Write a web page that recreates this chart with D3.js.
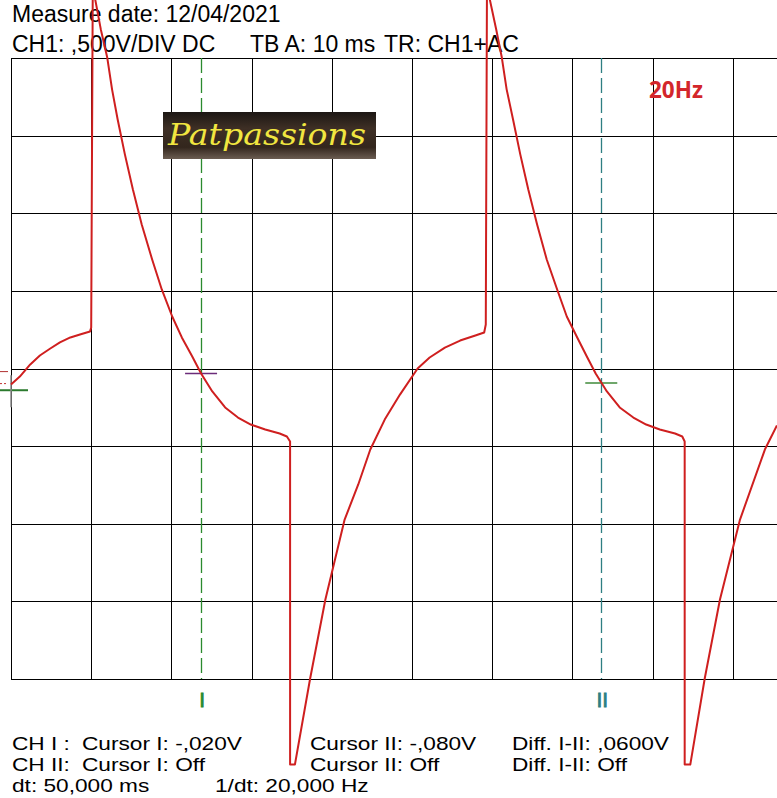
<!DOCTYPE html>
<html>
<head>
<meta charset="utf-8">
<script src="https://cdn.jsdelivr.net/npm/d3@7"></script>
<style>
  html, body { margin: 0; padding: 0; background: #fff; }
  svg { display: block; }
  .scope-text { font-family: "Liberation Sans", Arial, sans-serif; font-size: 23px; fill: #000; }
  .grid line { stroke: #000; stroke-width: 1; shape-rendering: crispEdges; }
</style>
</head>
<body>
<div id="chart"></div>
<script>
/** Values */

// trace: time in ms, level in V (0,5 V/div, 10 ms/div)
var waveT = [0, 1.1, 2.4, 3.6, 4.9, 6.1, 7.4, 8.6, 9.85, 10.0,
  10.2, 10.5, 11.2, 12.0, 12.6, 13.3, 14.2, 15.2, 16.3, 17.6, 18.8, 20.1, 21.3, 22.6, 23.7,
  25.1, 26.7, 28.3, 29.9, 31.7, 33.5, 34.4, 34.8, 34.8, 35.4, 37.3, 39.2, 41.6, 43.3, 44.8,
  46.6, 48.5, 50.7, 52.2, 54.1, 56.0, 57.9, 59.0, 59.2,
  59.35, 59.7, 60.5, 61.2, 61.8, 62.6, 63.5, 64.5, 65.6, 66.8, 68.1, 69.3, 70.6, 71.8, 72.9,
  74.3, 75.9, 77.6, 79.2, 80.9, 82.8, 83.7, 84.0, 84.0, 84.7, 86.5, 88.4, 90.9, 94.0, 95.5];
var waveV = [-0.103, -0.052, 0.026, 0.084, 0.129, 0.168, 0.200, 0.219, 0.238, 0.264,
  2.506, 2.377, 2.184, 2.003, 1.798, 1.604, 1.379, 1.153, 0.928, 0.702, 0.509, 0.335, 0.200, 0.077, -0.032,
  -0.148, -0.251, -0.316, -0.361, -0.393, -0.419, -0.438, -0.470, -2.551, -2.551, -1.997, -1.488, -0.973, -0.747, -0.522,
  -0.329, -0.168, 0, 0.071, 0.135, 0.180, 0.213, 0.232, 0.283,
  2.506, 2.377, 2.184, 2.003, 1.798, 1.604, 1.379, 1.153, 0.928, 0.702, 0.509, 0.335, 0.200, 0.077, -0.032,
  -0.148, -0.251, -0.316, -0.361, -0.393, -0.419, -0.438, -0.470, -2.551, -2.551, -1.997, -1.488, -0.973, -0.522, -0.367];

var cursorNames = ["I", "II"];
var cursorT = [23.7, 73.6];
var cursorV = [-0.020, -0.080];
var cursorColors = ["#2b8a2e", "#2e7f82"];

var gndV = -0.14;
var trigV = -0.02;

var timeTicks = d3.range(0, 100, 10);      // 10 ms/div
var voltTicks = d3.range(-2, 2.01, 0.5);   // 0,5 V/div

var headerLines = [
  ["Measure date: 12/04/2021"],
  ["CH1: ,500V/DIV DC", "TB A: 10 ms", "TR: CH1+AC"]
];
var footerLines = [
  ["CH I :", "Cursor I: -,020V", "Cursor II: -,080V", "Diff. I-II: ,0600V"],
  ["CH II:", "Cursor I: Off", "Cursor II: Off", "Diff. I-II: Off"],
  ["dt: 50,000 ms", "1/dt: 20,000 Hz"]
];
var freqLabel = "20Hz";
var logoText = "Patpassions";

/** Layout */

var W = 777;
var H = 798;
var plot = {left: 11, right: 813, top: 58, bottom: 679};

drawScope();

function drawScope() {
  var svg = d3.select("#chart")
    .append("svg")
      .attr("width", W)
      .attr("height", H);

  var x = d3.scaleLinear()
    .domain([0, 100])
    .range([plot.left, plot.right]);

  var y = d3.scaleLinear()
    .domain([-2, 2])
    .range([plot.bottom, plot.top]);

  // GRID //

  var xGrid = svg.append("g")
    .attr("class", "grid")
    .attr("transform", "translate(0," + plot.bottom + ")")
    .call(d3.axisBottom(x).tickValues(timeTicks).tickSize(-(plot.bottom - plot.top)).tickFormat(""));
  xGrid.select(".domain").remove();

  var yGrid = svg.append("g")
    .attr("class", "grid")
    .attr("transform", "translate(" + plot.left + ",0)")
    .call(d3.axisLeft(y).tickValues(voltTicks).tickSize(-(W - plot.left)).tickFormat(""));
  yGrid.select(".domain").remove();

  // CURSORS //

  var cursors = svg.selectAll(".cursor")
    .data(cursorT)
    .enter()
    .append("g")
      .attr("class", "cursor");

  cursors.append("line")
    .attr("x1", function(d) { return Math.round(x(d)) + 0.5; })
    .attr("x2", function(d) { return Math.round(x(d)) + 0.5; })
    .attr("y1", plot.top)
    .attr("y2", plot.bottom)
    .attr("stroke", function(d, i) { return cursorColors[i]; })
    .attr("stroke-width", 1.3)
    .attr("stroke-dasharray", "15,5");

  cursors.append("text")
    .attr("x", function(d) { return x(d) + 1; })
    .attr("y", 707)
    .attr("text-anchor", "middle")
    .style("font-family", "Liberation Sans, Arial, sans-serif")
    .style("font-size", "21px")
    .style("fill", function(d, i) { return cursorColors[i]; })
    .attr("stroke", function(d, i) { return cursorColors[i]; })
    .attr("stroke-width", 0.8)
    .text(function(d, i) { return cursorNames[i]; });

  // level marks on each cursor
  cursors.append("line")
    .attr("x1", function(d) { return x(d) - 16; })
    .attr("x2", function(d) { return x(d) + 16; })
    .attr("y1", function(d, i) { return y(cursorV[i]) + 2; })
    .attr("y2", function(d, i) { return y(cursorV[i]) + 2; })
    .attr("stroke", function(d, i) { return i === 0 ? "#6b2c7a" : "#3f8a3a"; })
    .attr("stroke-width", 1.5);

  // ground / trigger marks at the left edge
  svg.append("line")
    .attr("x1", 0).attr("x2", plot.left + 17)
    .attr("y1", y(gndV)).attr("y2", y(gndV))
    .attr("stroke", "#2b7a2e")
    .attr("stroke-width", 2);
  svg.append("line")
    .attr("x1", plot.left).attr("x2", plot.left)
    .attr("y1", y(gndV) - 15).attr("y2", y(gndV) + 17)
    .attr("stroke", "#8a8a8a")
    .attr("stroke-width", 1.5);
  svg.append("line")
    .attr("x1", 0).attr("x2", 8)
    .attr("y1", y(trigV)).attr("y2", y(trigV))
    .attr("stroke", "#b03030")
    .attr("stroke-width", 1);
  svg.append("line")
    .attr("x1", 0).attr("x2", 8)
    .attr("y1", y(trigV) + 12).attr("y2", y(trigV) + 12)
    .attr("stroke", "#c03030")
    .attr("stroke-width", 1)
    .attr("stroke-dasharray", "2,2");

  // LOGO //

  var defs = svg.append("defs");
  var grad = defs.append("linearGradient")
    .attr("id", "logo-bg")
    .attr("x1", "0%").attr("x2", "0%")
    .attr("y1", "0%").attr("y2", "100%");
  grad.append("stop").attr("offset", "0%").attr("stop-color", "#1c1714");
  grad.append("stop").attr("offset", "35%").attr("stop-color", "#3e2f25");
  grad.append("stop").attr("offset", "75%").attr("stop-color", "#33261d");
  grad.append("stop").attr("offset", "100%").attr("stop-color", "#6b5d52");

  svg.append("rect")
    .attr("x", 163)
    .attr("y", 112)
    .attr("width", 213)
    .attr("height", 47)
    .attr("fill", "url(#logo-bg)");

  svg.append("text")
    .attr("x", 168)
    .attr("y", 145)
    .attr("textLength", 198)
    .attr("lengthAdjust", "spacingAndGlyphs")
    .style("font-family", "DejaVu Serif, serif")
    .style("font-style", "italic")
    .style("font-size", "30px")
    .style("fill", "#f1e640")
    .text(logoText);

  svg.append("text")
    .attr("x", 649)
    .attr("y", 98)
    .style("font-family", "Open Sans, sans-serif")
    .style("font-weight", "bold")
    .style("font-size", "22.5px")
    .style("fill", "#d3262b")
    .text(freqLabel);

  // TEXTS //

  var headerX = [[12], [12, 250, 384]];
  var headerY = [22, 52];
  headerLines.forEach(function(row, r) {
    row.forEach(function(s, c) {
      svg.append("text")
        .attr("class", "scope-text")
        .attr("x", headerX[r][c])
        .attr("y", headerY[r])
        .text(s);
    });
  });

  // footer rows sit tight: measure at full size, then draw a smaller font stretched to the same width
  var footerX = [12, 82, 310, 512];
  var footerY = [750, 771, 792];
  footerLines.forEach(function(row, r) {
    row.forEach(function(s, c) {
      var t = svg.append("text")
        .attr("class", "scope-text")
        .attr("x", r === 2 && c === 1 ? 215 : footerX[c])
        .attr("y", footerY[r])
        .text(s);
      var len = t.node().getComputedTextLength() * 0.985;
      t.style("font-size", "18.5px")
        .attr("textLength", len)
        .attr("lengthAdjust", "spacingAndGlyphs");
    });
  });

  // TRACE //

  var trace = waveT.map(function(t, i) { return {t: t, v: waveV[i]}; });

  svg.append("path")
    .datum(trace)
    .attr("fill", "none")
    .attr("stroke", "#cf1f1f")
    .attr("stroke-width", 2)
    .attr("stroke-linejoin", "round")
    .attr("d", d3.line()
      .x(function(d) { return x(d.t); })
      .y(function(d) { return y(d.v); })
    );
}
</script>
</body>
</html>
